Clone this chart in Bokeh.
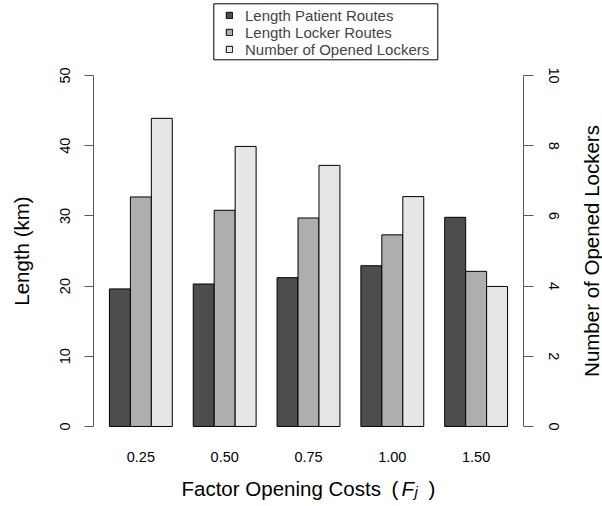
import math
from bokeh.plotting import figure
from bokeh.layouts import column, row
from bokeh.models import (ColumnDataSource, Range1d, LinearAxis, FixedTicker,
                          Legend, LegendItem, Label, BoxAnnotation)
from bokeh.embed import file_html
from bokeh.resources import INLINE

# ---- data ----
factors = ["0.25", "0.50", "0.75", "1.00", "1.50"]
patient_km = [19.6, 20.3, 21.2, 22.9, 29.8]
locker_km = [32.7, 30.8, 29.7, 27.3, 22.1]
lockers_opened = [8.78, 7.98, 7.44, 6.55, 3.99]
left_ticks = [0, 10, 20, 30, 40, 50]
right_ticks = [0, 2, 4, 6, 8, 10]
series_names = ["Length Patient Routes", "Length Locker Routes", "Number of Opened Lockers"]
colors = ["#4D4D4D", "#AEAEAE", "#E6E6E6"]

FONT = "Liberation Sans"
TICK_FS = "14.5px"
TITLE_FS = "20.5px"
AX = "#5a5a5a"
W = 578          # width of the stacked column; a 24 px strip on the right holds the right title

def blank(fig):
    fig.outline_line_color = None
    fig.xgrid.visible = False
    fig.ygrid.visible = False
    fig.background_fill_color = "white"
    fig.border_fill_color = "white"

# R barplot(beside=TRUE) layout: bars of width 1, one unit gap before each group
n = len(factors)
group_centers = [2.5 + 4 * i for i in range(n)]
src = ColumnDataSource(dict(
    x_pat=[c - 1 for c in group_centers],
    x_loc=[c for c in group_centers],
    x_num=[c + 1 for c in group_centers],
    patient=patient_km, locker=locker_km, opened=lockers_opened,
))

# ---------------- main plot ----------------
p = figure(width=W, height=409, output_backend="svg", toolbar_location=None,
           x_range=Range1d(0.24, 20.76), y_range=Range1d(-2, 52),
           min_border_left=93, min_border_right=W - 523, min_border_top=0,
           min_border_bottom=30)
p.extra_y_ranges = {"num": Range1d(-0.4, 10.4)}
blank(p)

p.vbar(x="x_pat", top="patient", bottom=0, width=1, source=src,
       fill_color=colors[0], line_color="black", line_width=1)
p.vbar(x="x_loc", top="locker", bottom=0, width=1, source=src,
       fill_color=colors[1], line_color="black", line_width=1)
p.vbar(x="x_num", top="opened", bottom=0, width=1, source=src,
       fill_color=colors[2], line_color="black", line_width=1, y_range_name="num")

xa = p.xaxis[0]
xa.ticker = FixedTicker(ticks=group_centers)
xa.major_label_overrides = {c: f for c, f in zip(group_centers, factors)}
xa.axis_line_color = None
xa.major_tick_line_color = None
xa.minor_tick_line_color = None
xa.major_label_text_font = FONT
xa.major_label_text_font_size = TICK_FS
xa.major_label_text_color = "black"
xa.major_label_standoff = 5

def style_y(ax, standoff, tick_out):
    ax.axis_line_color = AX
    ax.major_tick_line_color = AX
    ax.minor_tick_line_color = None
    ax.major_tick_out = tick_out
    ax.major_tick_in = 0
    ax.major_label_orientation = "vertical"
    ax.major_label_text_font = FONT
    ax.major_label_text_font_size = TICK_FS
    ax.major_label_text_color = "black"
    ax.major_label_standoff = standoff
    ax.axis_label_text_font = FONT
    ax.axis_label_text_font_size = TITLE_FS
    ax.axis_label_text_font_style = "normal"
    ax.axis_label_text_color = "black"

ya = p.yaxis[0]
ya.ticker = FixedTicker(ticks=left_ticks)
ya.bounds = (0, 50)
style_y(ya, 14, 9)
ya.axis_label = "Length (km)"
ya.axis_label_standoff = 25

ra = LinearAxis(y_range_name="num", ticker=FixedTicker(ticks=right_ticks), bounds=(0, 10))
style_y(ra, 15, 10)
p.add_layout(ra, "right")

# ---------------- right title strip ----------------
rs = figure(width=602 - W, height=506, output_backend="svg", toolbar_location=None,
            x_axis_type=None, y_axis_type=None, x_range=Range1d(0, 1), y_range=Range1d(0, 1),
            min_border_left=0, min_border_right=0, min_border_top=61, min_border_bottom=66)
blank(rs)
rs.add_layout(Label(x=13, y=189.5, x_units="screen", y_units="screen",
                    text="Number of Opened Lockers", angle=math.pi / 2,
                    text_align="center", text_baseline="middle",
                    text_font=FONT, text_font_size=TITLE_FS, text_color="black"))

# ---------------- legend strip (above the plot region) ----------------
# data units of this strip are pixels measured from the plot region's bottom-left corner
lg = figure(width=W, height=61, output_backend="svg", toolbar_location=None,
            x_axis_type=None, y_axis_type=None, x_range=Range1d(0, 430), y_range=Range1d(0, 61),
            min_border_left=93, min_border_right=W - 523, min_border_top=0, min_border_bottom=0)
blank(lg)
lg.extra_y_ranges = {"off": Range1d(1000, 1061)}   # keeps the key renderers out of view
keys = [lg.vbar(x=xc, top=yc, width=1, source=src, fill_color=c, line_color="black",
                line_width=1, y_range_name="off")
        for xc, yc, c in zip(["x_pat", "x_loc", "x_num"], ["patient", "locker", "opened"], colors)]
legend = Legend(items=[LegendItem(label=s, renderers=[r]) for s, r in zip(series_names, keys)],
                location=(132, 3.5), orientation="vertical", margin=0,
                glyph_width=8, glyph_height=8, label_standoff=12, padding=0,
                spacing=0, label_height=12,
                label_text_font=FONT, label_text_font_size="15px",
                border_line_color=None, background_fill_alpha=0)
lg.add_layout(legend)
lg.add_layout(BoxAnnotation(left=120.3, right=344.3, bottom=1.7, top=57.7,
                            fill_alpha=0, line_color="black", line_alpha=1, line_width=1))

# ---------------- x axis title strip: "Factor Opening Costs (F_j)" ----------------
t = figure(width=W, height=36, output_backend="svg", toolbar_location=None,
           x_axis_type=None, y_axis_type=None, x_range=Range1d(0, 1), y_range=Range1d(0, 1),
           min_border_left=93, min_border_right=W - 523, min_border_top=0, min_border_bottom=0)
blank(t)

def lab(x, y, text, size=TITLE_FS, style="normal"):
    t.add_layout(Label(x=x, y=y, x_units="screen", y_units="screen", text=text,
                       text_align="left", text_baseline="alphabetic",
                       text_font=FONT, text_font_size=size, text_font_style=style,
                       text_color="black"))

# offsets are relative to the plot region's left edge (x = 93 px)
lab(88, 18, "Factor Opening Costs")
lab(298, 18, "(")
lab(308, 18, "F", style="italic")
lab(321, 15, "j", size="15px", style="italic")
lab(335, 18, ")")

layout = row(column(lg, p, t, spacing=0), rs, spacing=0)
open("out.html", "w").write(file_html(layout, INLINE))
